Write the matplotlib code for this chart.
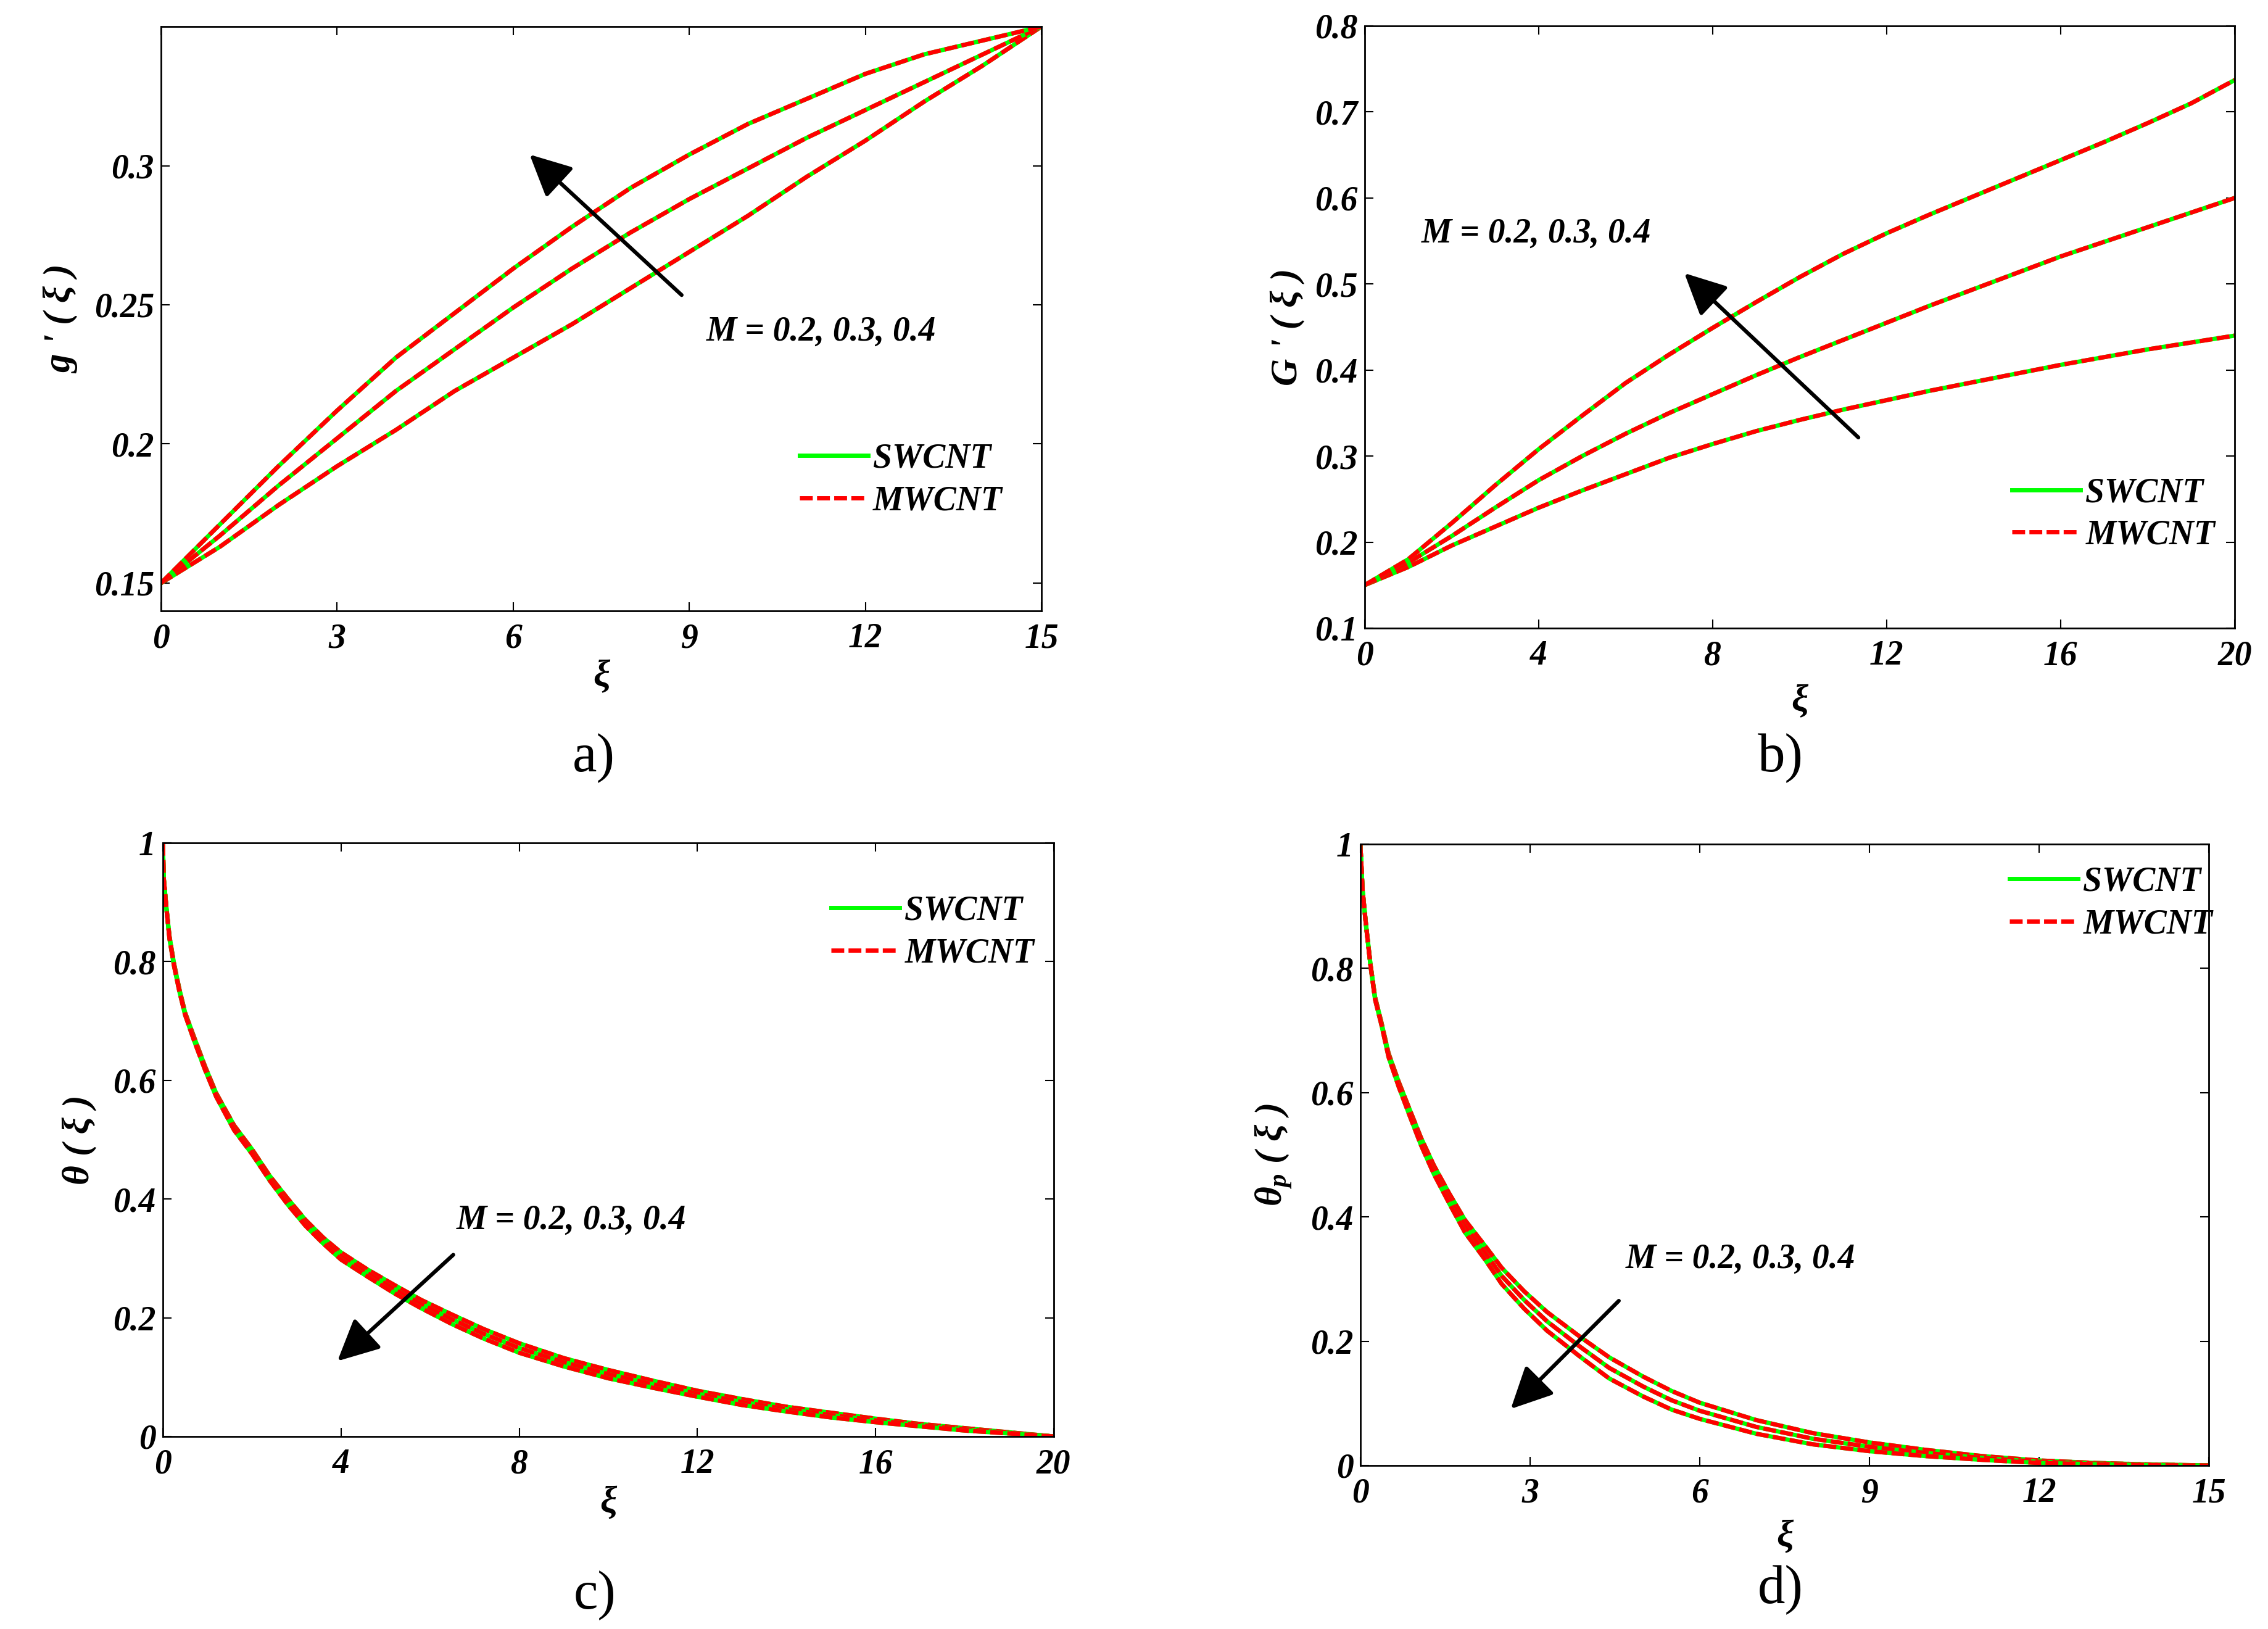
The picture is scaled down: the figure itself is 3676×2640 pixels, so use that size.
import matplotlib
matplotlib.use("Agg")
import matplotlib.pyplot as plt

plt.rcParams['font.family'] = ['Liberation Serif', 'DejaVu Serif']
plt.rcParams['mathtext.fontset'] = 'custom'
plt.rcParams['mathtext.rm'] = 'Liberation Serif:bold:italic'
plt.rcParams['mathtext.it'] = 'Liberation Serif:bold:italic'
plt.rcParams['mathtext.bf'] = 'Liberation Serif:bold:italic'

# ---- data ----
# a) g'(xi)
xi_a = [0, 1, 2, 3, 4, 5, 6, 7, 8, 9, 10, 11, 12, 13, 14, 15]
g_m02 = [0.150, 0.163, 0.178, 0.192, 0.205, 0.219, 0.231, 0.243, 0.256, 0.269, 0.282, 0.296, 0.309, 0.323, 0.336, 0.350]
g_m03 = [0.150, 0.167, 0.185, 0.202, 0.219, 0.234, 0.249, 0.263, 0.276, 0.288, 0.299, 0.310, 0.320, 0.330, 0.340, 0.350]
g_m04 = [0.150, 0.171, 0.192, 0.212, 0.231, 0.247, 0.263, 0.278, 0.292, 0.304, 0.315, 0.324, 0.333, 0.340, 0.345, 0.350]

# b) G'(xi)
xi_b = [0, 1, 2, 3, 4, 5, 6, 7, 8, 9, 10, 11, 12, 13, 14, 15, 16, 17, 18, 19, 20]
G_m02 = [0.150, 0.171, 0.196, 0.218, 0.240, 0.260, 0.279, 0.298, 0.314, 0.329, 0.342, 0.354, 0.365, 0.376, 0.386, 0.396, 0.406, 0.415, 0.424, 0.432, 0.440]
G_m03 = [0.150, 0.176, 0.207, 0.240, 0.272, 0.300, 0.326, 0.350, 0.372, 0.394, 0.415, 0.435, 0.455, 0.475, 0.494, 0.513, 0.532, 0.549, 0.566, 0.583, 0.600]
G_m04 = [0.150, 0.180, 0.222, 0.266, 0.308, 0.347, 0.385, 0.418, 0.449, 0.479, 0.508, 0.535, 0.559, 0.581, 0.602, 0.623, 0.644, 0.665, 0.687, 0.710, 0.737]

# c) theta(xi)
xi_c = [0, 0.02, 0.08, 0.15, 0.25, 0.37, 0.5, 0.7, 0.95, 1.2, 1.6, 2, 2.4, 2.8, 3.2, 3.6, 4, 4.6,
        5.2, 5.8, 6.5, 7.2, 8, 9, 10, 11, 12, 13, 14, 15, 16, 17, 18, 19, 20]
th_m02 = [1, 0.941, 0.891, 0.842, 0.797, 0.754, 0.714, 0.673, 0.623, 0.578, 0.524, 0.484, 0.439, 0.401, 0.365, 0.335, 0.310, 0.281,
          0.255, 0.230, 0.205, 0.181, 0.157, 0.132, 0.112, 0.094, 0.077, 0.063, 0.050, 0.040, 0.030, 0.021, 0.014, 0.007, 0.0]
th_m03 = [1, 0.940, 0.890, 0.840, 0.795, 0.752, 0.712, 0.670, 0.620, 0.575, 0.520, 0.480, 0.435, 0.396, 0.360, 0.330, 0.304, 0.275,
          0.248, 0.223, 0.197, 0.173, 0.149, 0.125, 0.105, 0.088, 0.072, 0.058, 0.046, 0.036, 0.027, 0.019, 0.012, 0.006, 0.0]
th_m04 = [1, 0.939, 0.889, 0.838, 0.793, 0.750, 0.710, 0.667, 0.617, 0.572, 0.516, 0.476, 0.431, 0.391, 0.355, 0.325, 0.298, 0.269,
          0.241, 0.216, 0.189, 0.165, 0.141, 0.118, 0.098, 0.082, 0.067, 0.053, 0.042, 0.032, 0.024, 0.017, 0.010, 0.005, 0.0]

# d) theta_p(xi)
xi_d = [0, 0.04, 0.1, 0.18, 0.26, 0.37, 0.5, 0.68, 0.85, 1.07, 1.3, 1.57, 1.85, 2.2, 2.5, 2.9, 3.3, 3.9,
        4.4, 5, 5.5, 6, 7, 8, 9, 10, 11, 12, 13, 14, 15]
tp_m02 = [1, 0.925, 0.871, 0.806, 0.754, 0.714, 0.663, 0.617, 0.578, 0.528, 0.483, 0.438, 0.395, 0.354, 0.318, 0.280, 0.247, 0.206,
          0.174, 0.143, 0.120, 0.101, 0.073, 0.052, 0.037, 0.025, 0.015, 0.008, 0.004, 0.0015, 0.0]
tp_m03 = [1, 0.925, 0.870, 0.805, 0.752, 0.712, 0.660, 0.613, 0.573, 0.522, 0.476, 0.430, 0.385, 0.343, 0.305, 0.266, 0.232, 0.190,
          0.157, 0.127, 0.105, 0.088, 0.062, 0.043, 0.030, 0.020, 0.012, 0.006, 0.003, 0.001, 0.0]
tp_m04 = [1, 0.925, 0.869, 0.804, 0.750, 0.710, 0.657, 0.609, 0.568, 0.516, 0.469, 0.422, 0.375, 0.332, 0.292, 0.252, 0.217, 0.174,
          0.140, 0.111, 0.090, 0.075, 0.051, 0.034, 0.023, 0.015, 0.009, 0.004, 0.002, 0.0005, 0.0]

m_text = "M = 0.2, 0.3, 0.4"
GREEN = '#00ff00'
RED = '#ff0000'
FS = 40
bi = dict(fontsize=FS, fontweight='bold', fontstyle='italic')

fig = plt.figure(figsize=(36.76, 26.4), dpi=100)

panels = [
    dict(rect=[0.0710, 0.6250, 0.3882, 0.3587], x=xi_a, ys=[g_m02, g_m03, g_m04],
         xlim=(0, 15), ylim=(0.14, 0.35), xt=[0, 3, 6, 9, 12, 15],
         yt=[0.15, 0.2, 0.25, 0.3], ytl=['0.15', '0.2', '0.25', '0.3'],
         ylab="g ' ( ξ )", ylx=-0.094, xly=-0.113,
         txt=(9.29, 0.2403), tail=(8.87, 0.2535), tip=(6.28, 0.304),
         leg=(0.725, 0.224), tag='a)', tagxy=(0.2617, 0.5348)),
    dict(rect=[0.6017, 0.6144, 0.3836, 0.3697], x=xi_b, ys=[G_m02, G_m03, G_m04],
         xlim=(0, 20), ylim=(0.1, 0.8), xt=[0, 4, 8, 12, 16, 20],
         yt=[0.1, 0.2, 0.3, 0.4, 0.5, 0.6, 0.7, 0.8],
         ytl=['0.1', '0.2', '0.3', '0.4', '0.5', '0.6', '0.7', '0.8'],
         ylab="G ' ( ξ )", ylx=-0.069, xly=-0.122,
         txt=(1.3, 0.5587), tail=(11.35, 0.3216), tip=(7.35, 0.5126),
         leg=(0.744, 0.189), tag='b)', tagxy=(0.7851, 0.5345)),
    dict(rect=[0.0718, 0.1182, 0.3928, 0.3644], x=xi_c, ys=[th_m02, th_m03, th_m04],
         xlim=(0, 20), ylim=(0, 1), xt=[0, 4, 8, 12, 16, 20],
         yt=[0, 0.2, 0.4, 0.6, 0.8, 1], ytl=['0', '0.2', '0.4', '0.6', '0.8', '1'],
         ylab="θ ( ξ )", ylx=-0.074, xly=-0.113,
         txt=(6.59, 0.364), tail=(6.52, 0.306), tip=(3.92, 0.127),
         leg=(0.75, 0.849), tag='c)', tagxy=(0.2622, 0.0205)),
    dict(rect=[0.5998, 0.1004, 0.3741, 0.3814], x=xi_d, ys=[tp_m02, tp_m03, tp_m04],
         xlim=(0, 15), ylim=(0, 1), xt=[0, 3, 6, 9, 12, 15],
         yt=[0, 0.2, 0.4, 0.6, 0.8, 1], ytl=['0', '0.2', '0.4', '0.6', '0.8', '1'],
         ylab=r"$\theta_p$ ( ξ )", ylx=-0.0785, xly=-0.115,
         txt=(4.69, 0.3316), tail=(4.57, 0.265), tip=(2.66, 0.091),
         leg=(0.765, 0.905), tag='d)', tagxy=(0.785, 0.0239)),
]

for p in panels:
    ax = fig.add_axes(p['rect'])
    for y in p['ys']:
        sw, = ax.plot(p['x'], y, '-', color=GREEN, lw=5)
        mw, = ax.plot(p['x'], y, '--', color=RED, lw=5, dashes=(3, 1.0))
    ax.set_xlim(*p['xlim'])
    ax.set_ylim(*p['ylim'])
    ax.set_xticks(p['xt'])
    ax.set_xticklabels([str(v) for v in p['xt']], **bi)
    ax.set_yticks(p['yt'])
    ax.set_yticklabels(p['ytl'], **bi)
    ax.tick_params(direction='in', length=10, width=1.5, top=True, right=True)
    ax.tick_params(axis='x', pad=14)
    ax.tick_params(axis='y', pad=8)
    for s in ax.spines.values():
        s.set_linewidth(2)

    ax.text(0.5, p['xly'], 'ξ', transform=ax.transAxes, ha='center', va='center',
            fontsize=44, fontweight='bold', fontstyle='italic')
    ax.text(p['ylx'], 0.5, p['ylab'], transform=ax.transAxes, rotation=90,
            ha='right', va='center', fontsize=44, fontweight='bold', fontstyle='italic')

    ax.text(p['txt'][0], p['txt'][1], m_text, ha='left', va='center', **bi)
    ax.annotate('', xy=p['tip'], xytext=p['tail'],
                arrowprops=dict(arrowstyle='-|>,head_length=0.55,head_width=0.27',
                                mutation_scale=75, lw=4.5, color='k',
                                shrinkA=0, shrinkB=0))

    ax.legend([sw, mw], ['SWCNT', 'MWCNT'], frameon=False, loc='center left',
              bbox_to_anchor=p['leg'], handlelength=2.0, handletextpad=0.15,
              labelspacing=0.3, borderpad=0, borderaxespad=0,
              prop=dict(family='Liberation Serif', size=FS, weight='bold', style='italic'))

    fig.text(p['tagxy'][0], p['tagxy'][1], p['tag'], ha='center', va='center', fontsize=64)

fig.savefig('out.png', dpi=100)
